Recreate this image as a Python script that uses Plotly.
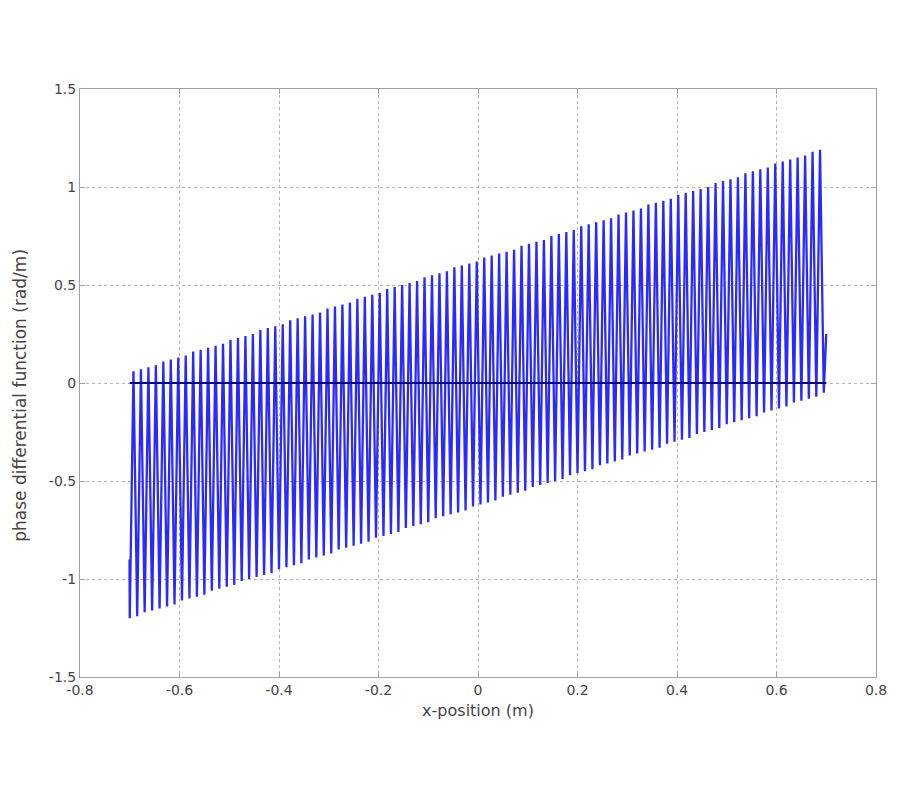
import plotly.graph_objects as go

# Turning points of the oscillation
trough_x = [-0.700,-0.685,-0.670,-0.655,-0.640,-0.625,-0.610,-0.595,-0.580,-0.565,-0.550,-0.535,-0.520,-0.505,-0.490,-0.475,-0.460,-0.445,-0.430,-0.415,-0.400,-0.385,-0.370,-0.355,-0.340,-0.325,-0.310,-0.295,-0.280,-0.265,-0.250,-0.235,-0.220,-0.205,-0.190,-0.175,-0.160,-0.145,-0.130,-0.115,-0.100,-0.085,-0.070,-0.055,-0.040,-0.025,-0.010,0.005,0.020,0.035,0.050,0.065,0.080,0.095,0.110,0.125,0.140,0.155,0.170,0.185,0.200,0.215,0.230,0.245,0.260,0.275,0.290,0.305,0.320,0.335,0.350,0.365,0.380,0.395,0.410,0.425,0.440,0.455,0.470,0.485,0.500,0.515,0.530,0.545,0.560,0.575,0.590,0.605,0.620,0.635,0.650,0.665,0.680,0.695]
trough_y = [-1.20,-1.19,-1.17,-1.16,-1.15,-1.14,-1.13,-1.11,-1.10,-1.09,-1.08,-1.06,-1.05,-1.04,-1.03,-1.01,-1.00,-0.99,-0.98,-0.97,-0.95,-0.94,-0.93,-0.92,-0.90,-0.89,-0.88,-0.87,-0.85,-0.84,-0.83,-0.82,-0.81,-0.79,-0.78,-0.77,-0.76,-0.74,-0.73,-0.72,-0.71,-0.69,-0.68,-0.67,-0.66,-0.65,-0.63,-0.62,-0.61,-0.60,-0.58,-0.57,-0.56,-0.55,-0.53,-0.52,-0.51,-0.50,-0.49,-0.47,-0.46,-0.45,-0.44,-0.42,-0.41,-0.40,-0.39,-0.37,-0.36,-0.35,-0.34,-0.33,-0.31,-0.30,-0.29,-0.28,-0.26,-0.25,-0.24,-0.23,-0.21,-0.20,-0.19,-0.18,-0.17,-0.15,-0.14,-0.13,-0.12,-0.10,-0.09,-0.08,-0.07,-0.05]
crest_x = [-0.6925,-0.6775,-0.6625,-0.6475,-0.6325,-0.6175,-0.6025,-0.5875,-0.5725,-0.5575,-0.5425,-0.5275,-0.5125,-0.4975,-0.4825,-0.4675,-0.4525,-0.4375,-0.4225,-0.4075,-0.3925,-0.3775,-0.3625,-0.3475,-0.3325,-0.3175,-0.3025,-0.2875,-0.2725,-0.2575,-0.2425,-0.2275,-0.2125,-0.1975,-0.1825,-0.1675,-0.1525,-0.1375,-0.1225,-0.1075,-0.0925,-0.0775,-0.0625,-0.0475,-0.0325,-0.0175,-0.0025,0.0125,0.0275,0.0425,0.0575,0.0725,0.0875,0.1025,0.1175,0.1325,0.1475,0.1625,0.1775,0.1925,0.2075,0.2225,0.2375,0.2525,0.2675,0.2825,0.2975,0.3125,0.3275,0.3425,0.3575,0.3725,0.3875,0.4025,0.4175,0.4325,0.4475,0.4625,0.4775,0.4925,0.5075,0.5225,0.5375,0.5525,0.5675,0.5825,0.5975,0.6125,0.6275,0.6425,0.6575,0.6725,0.6875]
crest_y = [0.06,0.07,0.08,0.09,0.11,0.12,0.13,0.14,0.16,0.17,0.18,0.19,0.20,0.22,0.23,0.24,0.25,0.27,0.28,0.29,0.30,0.32,0.33,0.34,0.35,0.36,0.38,0.39,0.40,0.41,0.43,0.44,0.45,0.46,0.48,0.49,0.50,0.51,0.52,0.54,0.55,0.56,0.57,0.59,0.60,0.61,0.62,0.64,0.65,0.66,0.67,0.68,0.70,0.71,0.72,0.73,0.75,0.76,0.77,0.78,0.80,0.81,0.82,0.83,0.84,0.86,0.87,0.88,0.89,0.91,0.92,0.93,0.94,0.96,0.97,0.98,0.99,1.00,1.02,1.03,1.04,1.05,1.07,1.08,1.09,1.10,1.12,1.13,1.14,1.15,1.16,1.18,1.19]
start_point = (-0.7005, -0.90)
end_point = (0.700, 0.25)

zero_x = [-0.70, 0.70]
zero_y = [0.0, 0.0]

x_ticks = [-0.8, -0.6, -0.4, -0.2, 0, 0.2, 0.4, 0.6, 0.8]
x_labels = ["-0.8", "-0.6", "-0.4", "-0.2", "0", "0.2", "0.4", "0.6", "0.8"]
y_ticks = [-1.5, -1, -0.5, 0, 0.5, 1, 1.5]
y_labels = ["-1.5", "-1", "-0.5", "0", "0.5", "1", "1.5"]

# assemble the path: start, trough, crest, trough, ..., end
xs = [start_point[0]]
ys = [start_point[1]]
for i in range(len(trough_x)):
    xs.append(trough_x[i]); ys.append(trough_y[i])
    if i < len(crest_x):
        xs.append(crest_x[i]); ys.append(crest_y[i])
xs.append(end_point[0]); ys.append(end_point[1])

FONT = "DejaVu Sans, Liberation Sans, Arial, sans-serif"

fig = go.Figure()
fig.add_trace(go.Scatter(x=xs, y=ys, mode="lines",
                         line=dict(color="#2a2aff", width=2.3), showlegend=False))
fig.add_trace(go.Scatter(x=zero_x, y=zero_y, mode="lines",
                         line=dict(color="#00008c", width=1.8), showlegend=False))

axis_common = dict(
    showgrid=True, gridcolor="#b4b4b4", griddash="dot", gridwidth=1,
    zeroline=False, showline=True, linecolor="#a0a0a0", linewidth=1, mirror="ticks",
    ticks="inside", ticklen=5, tickcolor="#a0a0a0",
    tickfont=dict(family=FONT, size=14, color="#444444"),
)

fig.update_layout(
    width=900, height=800,
    paper_bgcolor="white", plot_bgcolor="white",
    margin=dict(l=72, r=32, t=81, b=131),
    xaxis=dict(range=[-0.8, 0.8], tickvals=x_ticks, ticktext=x_labels,
               title=dict(text="x-position (m)", standoff=8,
                          font=dict(family=FONT, size=16, color="#444444")),
               **axis_common),
    yaxis=dict(range=[-1.5, 1.5], tickvals=y_ticks, ticktext=y_labels,
               **axis_common),
    annotations=[dict(text="phase differential function (rad/m)", textangle=-90,
                      xref="paper", yref="paper", x=-0.0754, y=0.48,
                      xanchor="center", yanchor="middle", showarrow=False,
                      font=dict(family=FONT, size=17, color="#444444"))],
)

fig.write_html("out.html")
